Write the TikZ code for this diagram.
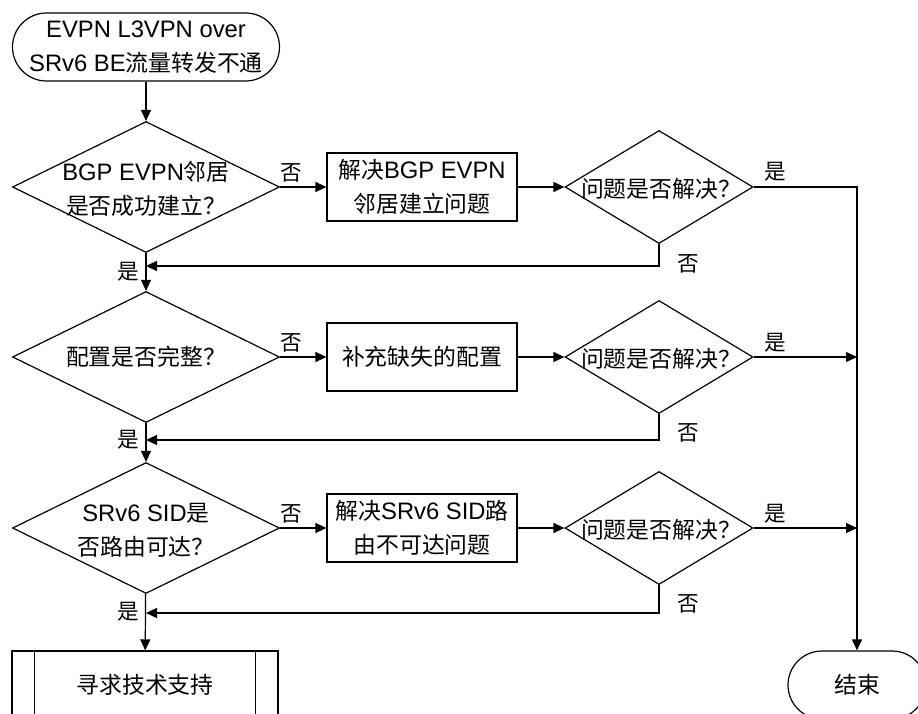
\documentclass[tikz,border=0pt]{standalone}
\usepackage{fontspec}
\setmainfont{Liberation Sans}
\newfontfamily\cjk[Scale=0.96]{Noto Sans CJK SC}
\usetikzlibrary{shapes.geometric,arrows.meta}
\newcommand\zh[1]{{\cjk #1}}
\begin{document}
\begin{tikzpicture}[x=1pt,y=-1pt,line width=1.2pt,
  txt/.style={align=center,font=\fontsize{23.8}{34}\selectfont,inner sep=0pt},
  lbl/.style={font=\fontsize{22.5}{26}\selectfont\cjk,inner sep=0pt},
  term/.style={draw,line width=1.2pt,rounded corners=34pt,minimum width=267pt,minimum height=68pt,txt},
  proc/.style={draw,line width=1.2pt,minimum width=190pt,minimum height=68pt,txt},
  decision/.style={draw,line width=1.2pt,diamond,inner sep=0pt,minimum width=267pt,minimum height=131pt},
  check/.style={draw,line width=1.2pt,diamond,inner sep=0pt,minimum width=188pt,minimum height=113pt},
  arr/.style={-{Triangle[length=11pt,width=10pt]},line width=1.2pt}]
\useasboundingbox (0,0) rectangle (918,714);
\clip (0,0) rectangle (918,714);
% nodes
\node[term] (start) at (146,47) {EVPN L3VPN over\\SRv6 BE\zh{流量转发不通}};
\node[decision] (d1) at (146,187) {};
\node[txt] (d1t) at (146,189) {BGP EVPN\zh{邻居}\\\zh{是否成功建立？}};
\node[proc] (b1) at (422,187) {\zh{解决}BGP EVPN\\\zh{邻居建立问题}};
\node[check] (q1) at (659,187) {};
\node[txt] (q1t) at (661,189) {\zh{问题是否解决？}};
\node[decision] (d2) at (146,357) {};
\node[txt] (d2t) at (146,357) {\zh{配置是否完整？}};
\node[proc] (b2) at (422,357) {\zh{补充缺失的配置}};
\node[check] (q2) at (659,357) {};
\node[txt] (q2t) at (661,359) {\zh{问题是否解决？}};
\node[decision] (d3) at (146,528) {};
\node[txt] (d3t) at (146,530) {SRv6 SID\zh{是}\\\zh{否路由可达？}};
\node[proc] (b3) at (422,528) {\zh{解决}SRv6 SID\zh{路}\\\zh{由不可达问题}};
\node[check] (q3) at (659,528) {};
\node[txt] (q3t) at (661,530) {\zh{问题是否解决？}};
\node[proc,minimum width=266pt] (fin) at (145,685) {\zh{寻求技术支持}};
\draw ([xshift=23pt]fin.north west) -- ([xshift=23pt]fin.south west);
\draw ([xshift=-23pt]fin.north east) -- ([xshift=-23pt]fin.south east);
\node[term,minimum width=138pt] (stop) at (857,685) {\zh{结束}};
% merge points
\coordinate (m1) at (146,266);
\coordinate (m2) at (146,440);
\coordinate (m3) at (146,613);
% connectors
\draw[arr] (start) -- (d1);
\draw[arr] (d1) -- (d2);
\draw[arr] (d2) -- (d3);
\draw[arr] (d3) -- (fin);
\draw[arr] (d1.east) -- (b1.west);
\draw[arr] (d2.east) -- (b2.west);
\draw[arr] (d3.east) -- (b3.west);
\draw[arr] (b1) -- (q1);
\draw[arr] (b2) -- (q2);
\draw[arr] (b3) -- (q3);
\draw[arr] (q1.east) -| (stop.north);
\draw[arr] (q2.east) -- (q2.east -| stop.north);
\draw[arr] (q3.east) -- (q3.east -| stop.north);
\draw[arr] (q1.south) |- (m1);
\draw[arr] (q2.south) |- (m2);
\draw[arr] (q3.south) |- (m3);
% labels
\node[lbl] (n1) at (291,173) {否};
\node[lbl] (n2) at (291,343) {否};
\node[lbl] (n3) at (291,514) {否};
\node[lbl] (y1) at (775,172) {是};
\node[lbl] (y2) at (775,343) {是};
\node[lbl] (y3) at (775,514) {是};
\node[lbl] (n4) at (688,264) {否};
\node[lbl] (n5) at (688,433) {否};
\node[lbl] (n6) at (688,604) {否};
\node[lbl] (y4) at (128,272) {是};
\node[lbl] (y5) at (128,440) {是};
\node[lbl] (y6) at (128,612) {是};
\end{tikzpicture}
\end{document}
